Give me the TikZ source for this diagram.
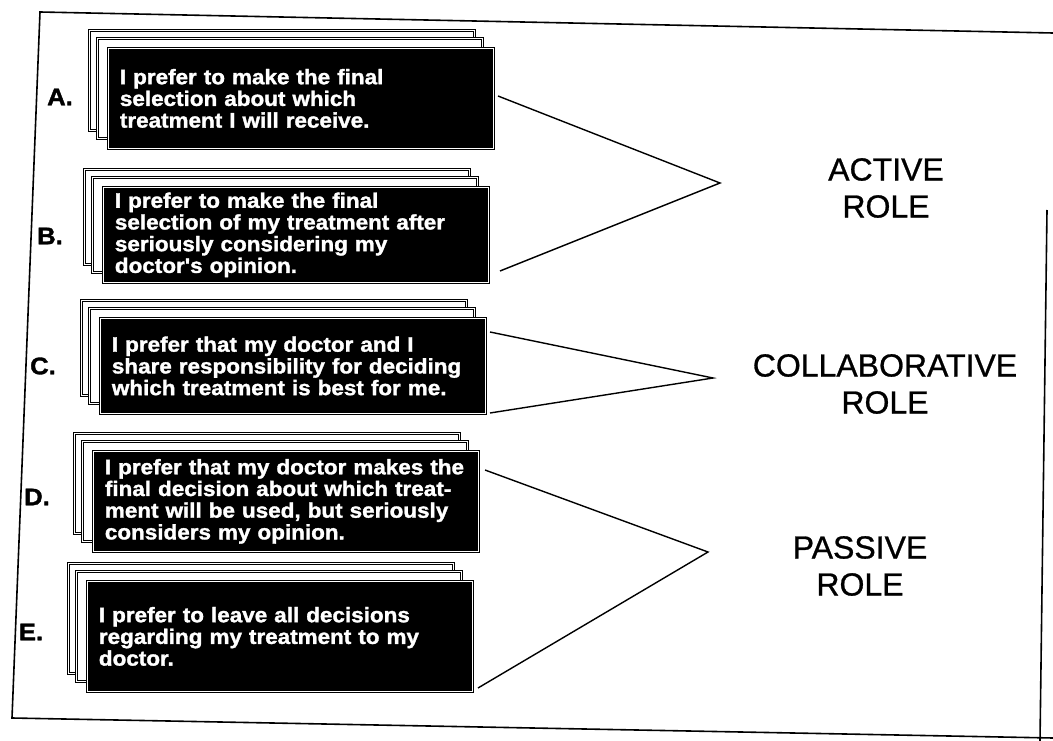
\documentclass[tikz,border=0pt]{standalone}
\usepackage{fontspec}
\setmainfont{Liberation Sans}
\newfontfamily\cardfont[FakeStretch=1.07, BoldFeatures={FakeBold=1.5}]{Liberation Sans}
\newfontfamily\rolefont[FakeBold=0.8]{Liberation Sans}
\usepackage{tikz}
\usetikzlibrary{positioning}

\tikzset{
  card/.style = {draw, double = white, double distance = 1.5pt, line width = 0.8pt, fill = black, text = white, anchor = north west, minimum width = 385pt, text width = 362pt, align = left, inner xsep = 10pt, font = \cardfont\bfseries\fontsize{21}{21.7}\selectfont},
  backcard/.style = {draw, double = white, double distance = 1.2pt, line width = 0.7pt, fill = white, anchor = north west, minimum width = 385pt},
  letter/.style = {font = \cardfont\bfseries\fontsize{24}{24}\selectfont},
  role/.style = {align = center, font = \rolefont\fontsize{32}{37}\selectfont},
  bracket/.style = {line width = 1.4pt}
}

% stacked card: name, x, y, height, text
\newcommand{\drawcard}[5]{
  \node[backcard, minimum height = #4pt] (#1b1) at ({#2-19},{#3-18}) {};
  \node[backcard, minimum height = #4pt] (#1b2) at ({#2-11},{#3-10}) {};
  \node[card, minimum height = #4pt] (#1) at (#2,#3) {#5};
}

\begin{document}
\begin{tikzpicture}[x=1pt, y=-1pt]
\useasboundingbox (0,0) rectangle (1053,741);
\draw[line width = 1.6pt] (1053,33) -- (40,12) -- (12,718) -- (1053,738);
\draw[line width = 1.6pt] (1047,210) -- (1040,741);

\drawcard{cardA}{108}{48}{100}{I prefer to make the final\\selection about which\\treatment I will receive.}
\drawcard{cardB}{103}{187}{95}{I prefer to make the final\\selection of my treatment after\\seriously considering my\\doctor's opinion.}
\drawcard{cardC}{100}{318}{95}{I prefer that my doctor and I\\share responsibility for deciding\\which treatment is best for me.}
\drawcard{cardD}{93}{451}{100}{I prefer that my doctor makes the\\final decision about which treat-\\ment will be used, but seriously\\considers my opinion.}
\drawcard{cardE}{87}{581}{110}{I prefer to leave all decisions\\regarding my treatment to my\\doctor.}

\node[letter] (labA) at (60,97) {A.};
\node[letter] (labB) at (50,236) {B.};
\node[letter] (labC) at (43,366) {C.};
\node[letter] (labD) at (37,497) {D.};
\node[letter] (labE) at (31,632) {E.};

\node[role] (active) at (886,188) {ACTIVE\\ROLE};
\node[role] (collab) at (885,384) {COLLABORATIVE\\ROLE};
\node[role] (passive) at (860,566) {PASSIVE\\ROLE};

\coordinate (actup) at (498,96);
\coordinate (actapex) at (720,183);
\coordinate (actdown) at (500,271);
\coordinate (colup) at (490,332);
\coordinate (colapex) at (713,378);
\coordinate (coldown) at (490,413);
\coordinate (pasup) at (485,470);
\coordinate (pasapex) at (708,552);
\coordinate (pasdown) at (478,688);
\draw[bracket] (actup) -- (actapex) -- (actdown);
\draw[bracket] (colup) -- (colapex) -- (coldown);
\draw[bracket] (pasup) -- (pasapex) -- (pasdown);
\end{tikzpicture}
\end{document}
